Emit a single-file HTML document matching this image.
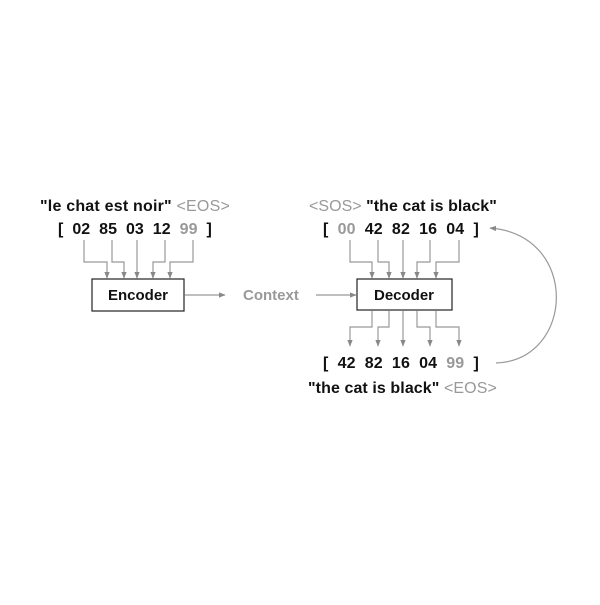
<!DOCTYPE html>
<html><head><style>body{margin:0;background:#fff}</style></head><body>
<svg width="600" height="600" viewBox="0 0 600 600" xmlns="http://www.w3.org/2000/svg" font-family="Liberation Sans, sans-serif" font-weight="bold">
<defs><marker id="a" markerWidth="6" markerHeight="6" refX="5" refY="3" orient="auto"><path d="M0,0.8 L5.5,3 L0,5.2z" fill="#888"/></marker></defs>
<g font-size="16" letter-spacing="0.2">
<text x="40" y="211" fill="#111" textLength="190">"le chat est noir" <tspan fill="#999" font-weight="normal">&lt;EOS&gt;</tspan></text>
<text x="58" y="234" fill="#111" xml:space="preserve" textLength="154">[  02  85  03  12  <tspan fill="#999">99</tspan>  ]</text>
<text x="309" y="211" fill="#999" font-weight="normal" textLength="188">&lt;SOS&gt; <tspan fill="#111" font-weight="bold">"the cat is black"</tspan></text>
<text x="323" y="234" fill="#111" xml:space="preserve" textLength="156">[  <tspan fill="#999">00</tspan>  42  82  16  04  ]</text>
<text x="323" y="368" fill="#111" xml:space="preserve" textLength="156">[  42  82  16  04  <tspan fill="#999">99</tspan>  ]</text>
<text x="308" y="393" fill="#111" textLength="189">"the cat is black" <tspan fill="#999" font-weight="normal">&lt;EOS&gt;</tspan></text>
</g>
<text x="243" y="300" fill="#999" font-size="15">Context</text>
<rect x="92" y="279" width="92" height="32" fill="#fff" stroke="#222" stroke-width="1.2"/>
<text x="138" y="300" text-anchor="middle" font-size="15" fill="#111">Encoder</text>
<rect x="357" y="279" width="95" height="31" fill="#fff" stroke="#222" stroke-width="1.2"/>
<text x="404" y="300" text-anchor="middle" font-size="15" fill="#111">Decoder</text>
<g fill="none" stroke="#999" stroke-width="1.2" marker-end="url(#a)">
<path d="M84,240 V262 H107 V278"/><path d="M112,240 V262 H124 V278"/><path d="M137,240 V278"/><path d="M165,240 V262 H153 V278"/><path d="M193,240 V262 H170 V278"/>
<path d="M350,240 V262 H372 V278"/><path d="M378,240 V262 H389 V278"/><path d="M403,240 V278"/><path d="M430,240 V262 H417 V278"/><path d="M459,240 V262 H436 V278"/>
<path d="M372,311 V327 H350 V346"/><path d="M389,311 V327 H378 V346"/><path d="M403,311 V346"/><path d="M417,311 V327 H430 V346"/><path d="M436,311 V327 H459 V346"/>
<path d="M185,295 H225"/><path d="M316,295 H356"/>
<path d="M496,363 C575,360 580,235 490,228"/>
</g>
</svg>
</body></html>
